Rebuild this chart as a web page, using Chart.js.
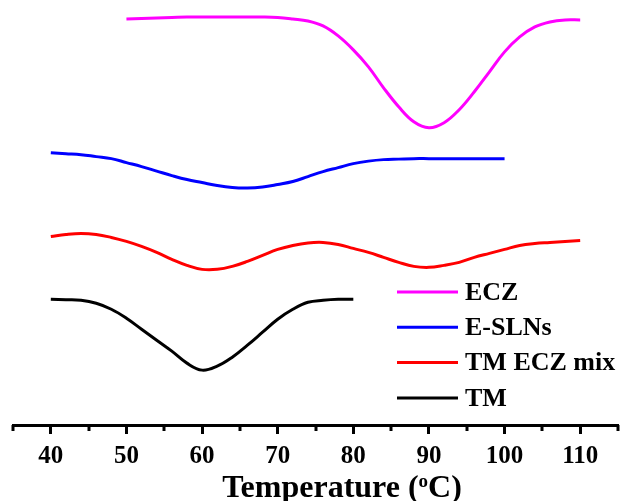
<!DOCTYPE html>
<html>
<head>
<meta charset="utf-8">
<script src="https://cdn.jsdelivr.net/npm/chart.js@4.4.0/dist/chart.umd.min.js"></script>
<style>
  body { margin: 0; background: #fff; }
  #wrap { width: 627px; height: 501px; position: relative; }
</style>
</head>
<body>
<div id="wrap"><canvas id="dscChart"></canvas></div>
<script>
// temperatures (oC) and offset heat flow (arb. units), every 2 oC
const eczTemp = [50, 52, 54, 56, 58, 60, 62, 64, 66, 68, 70, 72, 74, 76, 78, 80, 82, 84, 86, 88, 90, 92, 94, 96, 98, 100, 102, 104, 106, 108, 110];
const eczFlow = [41.1, 41.15, 41.2, 41.25, 41.3, 41.3, 41.3, 41.3, 41.3, 41.3, 41.25, 41.1, 40.9, 40.4, 39.4, 38.0, 36.3, 34.2, 32.3, 30.8, 30.2, 30.7, 32.0, 33.8, 35.8, 37.8, 39.3, 40.3, 40.8, 41.0, 41.0];

const slnTemp = [40, 42, 44, 46, 48, 50, 52, 54, 56, 58, 60, 62, 64, 66, 68, 70, 72, 74, 76, 78, 80, 82, 84, 86, 88, 90, 92, 94, 96, 98, 100];
const slnFlow = [27.7, 27.6, 27.5, 27.3, 27.1, 26.7, 26.3, 25.85, 25.4, 25.0, 24.7, 24.4, 24.2, 24.15, 24.25, 24.5, 24.8, 25.3, 25.8, 26.2, 26.6, 26.85, 27.0, 27.05, 27.1, 27.1, 27.1, 27.1, 27.1, 27.1, 27.1];

const mixTemp = [40, 42, 44, 46, 48, 50, 52, 54, 56, 58, 60, 62, 64, 66, 68, 70, 72, 74, 76, 78, 80, 82, 84, 86, 88, 90, 92, 94, 96, 98, 100, 102, 104, 106, 108, 110];
const mixFlow = [19.3, 19.5, 19.6, 19.5, 19.2, 18.8, 18.3, 17.7, 17.0, 16.4, 16.0, 16.0, 16.3, 16.8, 17.4, 18.0, 18.4, 18.65, 18.7, 18.5, 18.1, 17.7, 17.2, 16.7, 16.3, 16.2, 16.4, 16.7, 17.2, 17.6, 18.0, 18.4, 18.6, 18.7, 18.8, 18.9];

const tmTemp = [40, 42, 44, 46, 48, 50, 52, 54, 56, 58, 60, 62, 64, 66, 68, 70, 72, 74, 76, 78, 80];
const tmFlow = [13.0, 12.95, 12.9, 12.6, 12.0, 11.1, 10.0, 8.9, 7.8, 6.6, 5.9, 6.3, 7.2, 8.4, 9.7, 11.0, 12.0, 12.7, 12.9, 13.0, 13.0];

const majorTicks = [40, 50, 60, 70, 80, 90, 100, 110];
const minorTicks = [35, 45, 55, 65, 75, 85, 95, 105, 115];

const seriesNames = ['ECZ', 'E-SLNs', 'TM ECZ mix', 'TM'];
const seriesColors = ['#ff00ff', '#0000ff', '#ff0000', '#000000'];
const axisTitle = ['Temperature (', 'o', 'C)'];

function toPoints(xs, ys) {
    return xs.map((x, i) => ({ x: x, y: ys[i] }));
}

const serif = '"Liberation Serif", "Times New Roman", serif';

// minor ticks, legend and axis title drawn by hand
const decorPlugin = {
    id: 'decor',
    afterDraw(chart) {
        const c = chart.ctx;
        const xs = chart.scales.x;
        const axisY = chart.chartArea.bottom;
        c.save();
        c.strokeStyle = '#000';
        c.lineWidth = 3;
        minorTicks.forEach(v => {
            const px = Math.round(xs.getPixelForValue(v));
            c.beginPath();
            c.moveTo(px, axisY);
            c.lineTo(px, axisY + 6);
            c.stroke();
        });

        // legend
        const x0 = 397, x1 = 458, top = 292, gap = 35.3;
        c.font = 'bold 26px ' + serif;
        c.textBaseline = 'middle';
        c.textAlign = 'left';
        chart.data.datasets.forEach((ds, i) => {
            const y = top + i * gap;
            c.strokeStyle = ds.borderColor;
            c.lineWidth = 3;
            c.beginPath();
            c.moveTo(x0, y);
            c.lineTo(x1, y);
            c.stroke();
            c.fillStyle = '#000';
            c.fillText(ds.label, 465, y + 1);
        });

        // x axis title with superscript o
        const big = 'bold 32px ' + serif;
        const small = 'bold 19px ' + serif;
        c.textBaseline = 'alphabetic';
        c.font = big;
        const w1 = c.measureText(axisTitle[0]).width;
        const w3 = c.measureText(axisTitle[2]).width;
        c.font = small;
        const w2 = c.measureText(axisTitle[1]).width;
        let x = 342 - (w1 + w2 + w3) / 2;
        const base = 497;
        c.fillStyle = '#000';
        c.font = big;
        c.fillText(axisTitle[0], x, base);
        x += w1;
        c.font = small;
        c.fillText(axisTitle[1], x, base - 10);
        x += w2;
        c.font = big;
        c.fillText(axisTitle[2], x, base);
        c.restore();
    }
};

const datasetList = [
    toPoints(eczTemp, eczFlow),
    toPoints(slnTemp, slnFlow),
    toPoints(mixTemp, mixFlow),
    toPoints(tmTemp, tmFlow)
].map((pts, i) => ({
    label: seriesNames[i],
    data: pts,
    borderColor: seriesColors[i],
    borderWidth: 3,
    pointRadius: 0,
    fill: false,
    tension: 0.4
}));

new Chart(document.getElementById('dscChart').getContext('2d'), {
    type: 'line',
    data: { datasets: datasetList },
    options: {
        responsive: true,
        maintainAspectRatio: false,
        animation: false,
        layout: { padding: { left: 13, right: 9, top: 0, bottom: 21 } },
        plugins: {
            legend: { display: false },
            tooltip: { enabled: false }
        },
        scales: {
            x: {
                type: 'linear',
                min: 35,
                max: 115,
                afterBuildTicks: scale => {
                    scale.ticks = majorTicks.map(v => ({ value: v }));
                },
                ticks: {
                    autoSkip: false,
                    maxRotation: 0,
                    minRotation: 0,
                    padding: 8,
                    color: '#000',
                    font: { family: serif, size: 25, weight: 'bold' }
                },
                grid: {
                    drawOnChartArea: false,
                    drawTicks: true,
                    tickLength: 9,
                    tickWidth: 3,
                    tickColor: '#000'
                },
                border: { display: true, color: '#000', width: 3 }
            },
            y: {
                display: false,
                min: 0.4,
                max: 43
            }
        }
    },
    plugins: [decorPlugin]
});
</script>
</body>
</html>
